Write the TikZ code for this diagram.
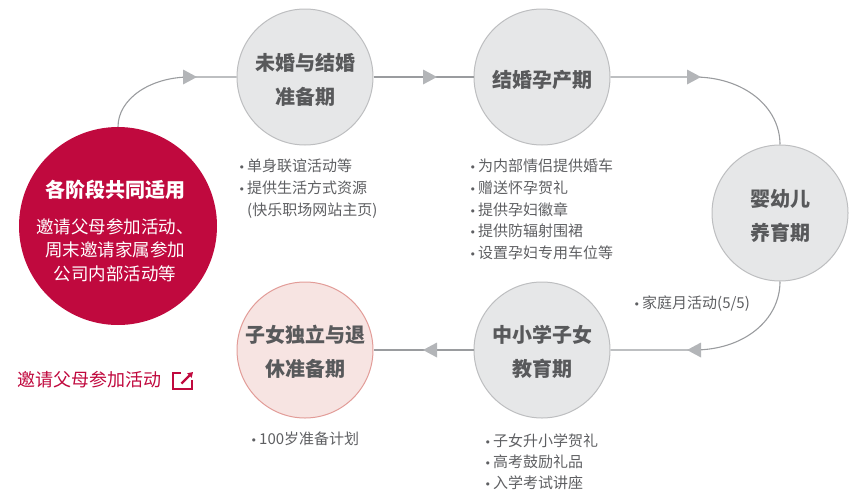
\documentclass[tikz,border=0pt]{standalone}
\usepackage{fontspec}
\setmainfont{Noto Sans CJK SC}
\newfontfamily\dvfont{DejaVu Sans}
\usetikzlibrary{arrows.meta}
\definecolor{redmain}{HTML}{C0093E}
\definecolor{circfill}{HTML}{E6E7E8}
\definecolor{circline}{HTML}{BDBEC0}
\definecolor{pinkfill}{HTML}{F7E4E2}
\definecolor{pinkline}{HTML}{E29C98}
\definecolor{titlegray}{HTML}{58595B}
\definecolor{bulgray}{HTML}{5E5F62}
\definecolor{conngray}{HTML}{9A9C9F}
\definecolor{trigray}{HTML}{B3B5B8}
\newcommand{\bl}{\makebox[8pt][l]{\hspace*{-0.5pt}{\dvfont\fontsize{11}{11}\selectfont •}}}
\tikzset{
  stage/.style={circle, minimum size=136pt, inner sep=0pt, fill=circfill, draw=circline, line width=1pt},
  lastst/.style={stage, fill=pinkfill, draw=pinkline},
  redst/.style={circle, minimum size=198pt, inner sep=0pt, fill=redmain},
  sttext/.style={text=titlegray, font=\fontsize{20}{34}\selectfont\bfseries, align=center},
  bullist/.style={anchor=north west, inner sep=0pt, text=bulgray, font=\fontsize{15}{21.6}\selectfont, align=left},
  conn/.style={draw=conngray, line width=1.1pt},
  rtri/.pic={\fill[trigray] (-7,-7.5) -- (7,0) -- (-7,7.5) -- cycle;},
  ltri/.pic={\fill[trigray] (7,-7.5) -- (-7,0) -- (7,7.5) -- cycle;}
}
\begin{document}
\begin{tikzpicture}[x=1pt,y=-1pt]
\useasboundingbox (0,0) rectangle (856,490);
% circles
\node[redst] (red) at (118,226) {};
\node[stage] (c1) at (305,77) {};
\node[stage] (c2) at (542,77) {};
\node[stage] (c3) at (780,213) {};
\node[stage] (c4) at (542,350) {};
\node[lastst] (c5) at (305,350) {};
% arrow-head positions
\coordinate (t1) at (190,77);
\coordinate (t2) at (430,77);
\coordinate (t3) at (694,77);
\coordinate (t4) at (694,350);
\coordinate (t5) at (430,350);
% connectors
\draw[conn] (red.north) .. controls (118,99) and (150,77) .. (t1) -- (c1);
\draw[conn] (c1) -- (c2);
\draw[conn] (c2) -- (t3) .. controls (744,77) and (780,107) .. (c3.north);
\draw[conn] (c3.south) .. controls (780,320) and (744,350) .. (t4) -- (c4);
\draw[conn] (c4) -- (c5);
\pic at (t1) {rtri};
\pic at (t2) {rtri};
\pic at (t3) {rtri};
\pic at (t4) {ltri};
\pic at (t5) {ltri};
% stage titles
\node[sttext] (c1t) at (305,80) {未婚与结婚\\准备期};
\node[sttext] (c2t) at (542,80) {结婚孕产期};
\node[sttext] (c3t) at (780,216) {婴幼儿\\养育期};
\node[sttext] (c4t) at (542,352) {中小学子女\\教育期};
\node[sttext] (c5t) at (305,352) {子女独立与退\\休准备期};
% red circle text
\node[text=white, font=\fontsize{20}{24}\selectfont\bfseries] (redt) at (115,190) {各阶段共同适用};
\node[text=white, font=\fontsize{17.5}{23.5}\selectfont, align=center] (redb) at (115,250) {邀请父母参加活动、\\周末邀请家属参加\\公司内部活动等};
% bullet lists
\node[bullist] (l1) at (239,159) {\bl 单身联谊活动等\\\bl 提供生活方式资源\\\hspace*{8pt}(快乐职场网站主页)};
\node[bullist] (l2) at (470,159) {\bl 为内部情侣提供婚车\\\bl 赠送怀孕贺礼\\\bl 提供孕妇徽章\\\bl 提供防辐射围裙\\\bl 设置孕妇专用车位等};
\node[bullist] (l3) at (634,296) {\bl 家庭月活动(5/5)};
\node[bullist, font=\fontsize{15}{20.8}\selectfont] (l4) at (485,434) {\bl 子女升小学贺礼\\\bl 高考鼓励礼品\\\bl 入学考试讲座};
\node[bullist] (l5) at (251,432) {\bl 100岁准备计划};
% link
\node[anchor=west, inner sep=0pt, text=redmain, font=\fontsize{18}{20}\selectfont] (lnk) at (17,380) {邀请父母参加活动};
\draw[redmain, line width=2.3pt] (181,373) -- (173.2,373) -- (173.2,389) -- (192,389) -- (192,380);
\draw[redmain, line width=2.3pt, -{Triangle[length=5pt,width=6pt]}] (181.5,383.5) -- (193,372);
\end{tikzpicture}
\end{document}
